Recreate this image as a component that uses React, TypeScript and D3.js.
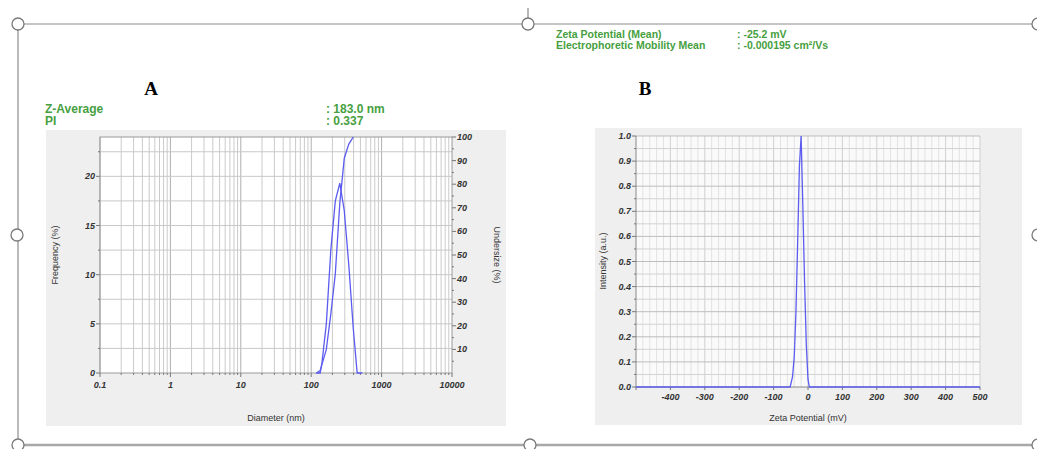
import React from 'react';
import * as d3 from 'd3';

// A: size distribution (DLS)
const sizeNm = [118, 134, 142, 164, 190, 220, 255, 295, 342, 396, 450, 531];
const frequency = [0, 0, 1.0, 5.0, 12.5, 17.5, 19.3, 16.5, 11.0, 4.5, 0, 0];
const undersizeNm = [118, 134, 164, 190, 220, 255, 295, 342, 396];
const undersize = [0, 1, 10, 25, 42, 72, 91, 97, 100];
const sizeTicks = [0.1, 1, 10, 100, 1000, 10000];
const freqTicks = [0, 5, 10, 15, 20];
const underTicks = [10, 20, 30, 40, 50, 60, 70, 80, 90, 100];

// B: zeta potential distribution
const zetaMv = [-500, -52, -45, -40, -35, -30, -25, -20, -15, -10, -5, 0, 4, 500];
const intensity = [0, 0, 0.04, 0.12, 0.3, 0.58, 0.88, 1.0, 0.72, 0.42, 0.17, 0.03, 0, 0];
const zetaTicks = [-400, -300, -200, -100, 0, 100, 200, 300, 400, 500];
const intensityTicks = [0, 0.1, 0.2, 0.3, 0.4, 0.5, 0.6, 0.7, 0.8, 0.9, 1.0];

const green = '#46a040';
const blue = '#5c5cf0';
const tickFont = { fontFamily: 'Liberation Sans, Arial, sans-serif', fontSize: 9, fontWeight: 700, fontStyle: 'italic', fill: '#333' } as const;
const titleFont = { fontFamily: 'Liberation Sans, Arial, sans-serif', fontSize: 9, fill: '#333' } as const;
const headFont = { fontFamily: 'Liberation Sans, Arial, sans-serif', fontSize: 10.5, fontWeight: 700, fill: green } as const;

function SizeChart() {
  const x = d3.scaleLog().domain([0.1, 10000]).range([100, 452]);
  const y = d3.scaleLinear().domain([0, 24]).range([373, 137]);
  const yR = d3.scaleLinear().domain([0, 100]).range([373, 137]);

  const minor: number[] = [];
  for (let p = -1; p < 4; p++) for (let k = 1; k < 10; k++) minor.push(k * Math.pow(10, p));
  const hGrid = d3.range(2.5, 24, 2.5);

  const freqLine = d3.line<number>().x((_, i) => x(sizeNm[i])).y(d => y(d));
  const underLine = d3.line<number>().x((_, i) => x(undersizeNm[i])).y(d => yR(d));
  const [x0, x1] = x.range();
  const [y0, y1] = y.range();

  return (
    <g>
      <rect x={46} y={130} width={460} height={296} fill="#efefef" />
      <rect x={x0} y={y1} width={x1 - x0} height={y0 - y1} fill="#fff" />
      {minor.map((v, i) => (
        <line key={'v' + i} x1={x(v)} x2={x(v)} y1={y1} y2={y0}
          stroke={sizeTicks.some(t => Math.abs(t - v) < 1e-9) ? '#b0b0b0' : '#cacaca'} strokeWidth={1} />
      ))}
      {hGrid.map((v, i) => (
        <line key={'h' + i} x1={x0} x2={x1} y1={y(v)} y2={y(v)} stroke="#c8c8c8" strokeWidth={1} />
      ))}
      <rect x={x0} y={y1} width={x1 - x0} height={y0 - y1} fill="none" stroke="#9a9a9a" strokeWidth={1} />
      {minor.concat([10000]).map((v, i) => (
        <line key={'xt' + i} x1={x(v)} x2={x(v)} y1={y0} y2={y0 + (sizeTicks.some(t => Math.abs(t - v) < 1e-9) ? 4 : 2)} stroke="#777" />
      ))}
      {sizeTicks.map(t => (
        <text key={'xl' + t} x={x(t)} y={388} textAnchor="middle" {...tickFont}>{t}</text>
      ))}
      {d3.range(0, 24, 2.5).map((v, i) => (
        <line key={'yt' + i} x1={x0 - (v % 5 === 0 ? 4 : 2)} x2={x0} y1={y(v)} y2={y(v)} stroke="#777" />
      ))}
      {freqTicks.map(t => (
        <text key={'yl' + t} x={x0 - 5} y={y(t) + 3} textAnchor="end" {...tickFont}>{t}</text>
      ))}
      {d3.range(5, 101, 5).map(v => (
        <line key={'rt' + v} x1={x1} x2={x1 + (v % 10 === 0 ? 4 : 2)} y1={yR(v)} y2={yR(v)} stroke="#777" />
      ))}
      {underTicks.map(t => (
        <text key={'rl' + t} x={x1 + 5} y={yR(t) + 3} textAnchor="start" {...tickFont}>{t}</text>
      ))}
      <path d={freqLine(frequency) || ''} fill="none" stroke={blue} strokeWidth={1.3} />
      <path d={underLine(undersize) || ''} fill="none" stroke={blue} strokeWidth={1.3} />
      <text x={276} y={421} textAnchor="middle" {...titleFont}>Diameter (nm)</text>
      <text transform="translate(58,255) rotate(-90)" textAnchor="middle" {...titleFont}>Frequency (%)</text>
      <text transform="translate(494,255) rotate(90)" textAnchor="middle" {...titleFont}>Undersize (%)</text>
      <text x={151} y={95} textAnchor="middle" fontFamily="Liberation Serif, serif" fontWeight={700} fontSize={19}>A</text>
      <text x={45} y={113} {...headFont} fontSize={12}>Z-Average</text>
      <text x={45} y={125} {...headFont} fontSize={12}>PI</text>
      <text x={326} y={113} {...headFont} fontSize={12}>:  183.0 nm</text>
      <text x={326} y={125} {...headFont} fontSize={12}>:  0.337</text>
    </g>
  );
}

function ZetaChart() {
  const x = d3.scaleLinear().domain([-500, 500]).range([636, 980]);
  const y = d3.scaleLinear().domain([0, 1]).range([387, 136]);
  const [x0, x1] = x.range();
  const [y0, y1] = y.range();
  const vGrid = d3.range(-480, 501, 20);
  const hGrid = d3.range(0.05, 1.001, 0.05);
  const line = d3.line<number>().x((_, i) => x(zetaMv[i])).y(d => y(d));

  return (
    <g>
      <rect x={595} y={128} width={427} height={297} fill="#efefef" />
      <rect x={x0} y={y1} width={x1 - x0} height={y0 - y1} fill="#fafafa" />
      {vGrid.map(v => (
        <line key={'v' + v} x1={x(v)} x2={x(v)} y1={y1} y2={y0} stroke={v % 100 === 0 ? '#d0d0d0' : '#e2e2e2'} />
      ))}
      {hGrid.map((v, i) => (
        <line key={'h' + i} x1={x0} x2={x1} y1={y(v)} y2={y(v)} stroke={i % 2 === 1 ? '#bdbdbd' : '#d2d2d2'} />
      ))}
      <line x1={x0} x2={x0} y1={y1} y2={y0} stroke="#888" />
      <line x1={x0} x2={x1} y1={y0} y2={y0} stroke="#888" />
      {d3.range(-500, 501, 100).map(v => (
        <line key={'xt' + v} x1={x(v)} x2={x(v)} y1={y0} y2={y0 + 3} stroke="#777" />
      ))}
      {zetaTicks.map(t => (
        <text key={'xl' + t} x={x(t)} y={400} textAnchor="middle" {...tickFont}>{t}</text>
      ))}
      {d3.range(0, 21).map(i => (
        <line key={'yt' + i} x1={x0 - (i % 2 === 0 ? 4 : 2)} x2={x0} y1={y(i * 0.05)} y2={y(i * 0.05)} stroke="#777" />
      ))}
      {intensityTicks.map(t => (
        <text key={'yl' + t} x={x0 - 5} y={y(t) + 3} textAnchor="end" {...tickFont}>{t.toFixed(1)}</text>
      ))}
      <path d={line(intensity) || ''} fill="none" stroke={blue} strokeWidth={1.3} />
      <text x={808} y={421} textAnchor="middle" {...titleFont}>Zeta Potential (mV)</text>
      <text transform="translate(606,261) rotate(-90)" textAnchor="middle" {...titleFont}>Intensity (a.u.)</text>
      <text x={645} y={95} textAnchor="middle" fontFamily="Liberation Serif, serif" fontWeight={700} fontSize={19}>B</text>
      <text x={556} y={38} {...headFont}>Zeta Potential (Mean)</text>
      <text x={556} y={49} {...headFont}>Electrophoretic Mobility Mean</text>
      <text x={737} y={38} {...headFont}>:  -25.2 mV</text>
      <text x={737} y={49} {...headFont}>:  -0.000195 cm²/Vs</text>
    </g>
  );
}

export default function App() {
  const handles = [[18, 24], [528, 24], [1038, 24], [17, 235], [1038, 235], [18, 445], [530, 445], [1038, 445]];
  return (
    <svg width={1037} height={449} style={{ position: 'absolute', left: 0, top: 0, background: '#fff' }}>
      <line x1={18} x2={1037} y1={24} y2={24} stroke="#8c8c8c" strokeWidth={1.2} />
      <line x1={18} x2={1037} y1={445} y2={445} stroke="#a8a8a8" strokeWidth={2.5} />
      <line x1={18} x2={18} y1={24} y2={445} stroke="#8c8c8c" strokeWidth={1.2} />
      <line x1={528} x2={528} y1={8} y2={18} stroke="#8c8c8c" strokeWidth={1.2} />
      <SizeChart />
      <ZetaChart />
      {handles.map(([cx, cy], i) => (
        <circle key={i} cx={cx} cy={cy} r={6} fill="#fff" stroke="#7a7a7a" strokeWidth={1.3} />
      ))}
    </svg>
  );
}
